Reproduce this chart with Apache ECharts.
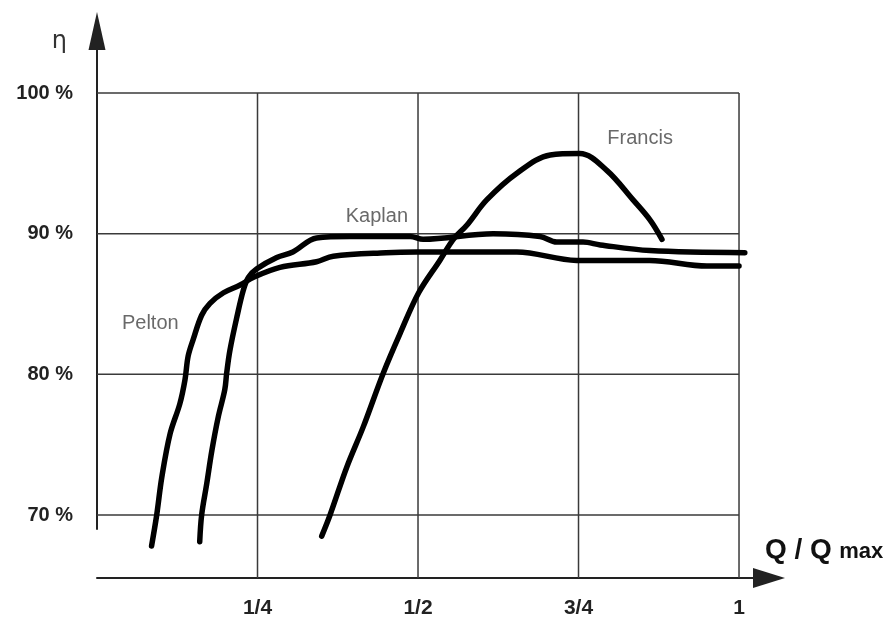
<!DOCTYPE html>
<html><head><meta charset="utf-8">
<script src="https://cdn.jsdelivr.net/npm/echarts@6/dist/echarts.min.js"></script>
<style>html,body{margin:0;padding:0;background:#fff}#c{width:891px;height:623px}</style>
</head><body><div id="c"></div>
<script>
// ---- axis ticks ----
const xTickValues = [0.25, 0.5, 0.75, 1];
const xTickLabels = ['1/4', '1/2', '3/4', '1'];
const yTickValues = [70, 80, 90, 100];

// ---- curves (Q/Qmax, efficiency %) ----
const peltonX = [0.085,0.093,0.101,0.114,0.129,0.137,0.142,0.150,0.163,0.176,0.197,0.223,0.244,0.285,0.342,0.368,0.450,0.498,0.654,0.747,0.861,0.950,1.000];
const peltonY = [67.8,70.0,72.7,75.8,77.9,79.6,81.3,82.5,84.2,85.05,85.8,86.35,86.9,87.6,88.0,88.4,88.65,88.7,88.7,88.1,88.1,87.7,87.7];

const kaplanX = [0.160,0.163,0.171,0.179,0.189,0.199,0.202,0.207,0.218,0.228,0.236,0.249,0.280,0.305,0.342,0.394,0.488,0.508,0.617,0.690,0.716,0.757,0.784,0.861,1.009];
const kaplanY = [68.1,70.0,72.25,74.6,77.0,78.9,80.1,81.7,84.1,86.0,86.9,87.5,88.3,88.7,89.7,89.8,89.8,89.6,90.0,89.8,89.4,89.4,89.2,88.8,88.65];

const francisX = [0.350,0.363,0.389,0.415,0.446,0.472,0.501,0.534,0.555,0.576,0.607,0.654,0.706,0.752,0.794,0.835,0.861,0.880];
const francisY = [68.5,70.0,73.4,76.3,80.1,82.9,85.8,88.1,89.6,90.6,92.4,94.3,95.6,95.7,94.5,92.4,91.0,89.6];

// ---- curve name annotations ----
const labelNames = ['Pelton', 'Kaplan', 'Francis'];
const labelX = [0.083, 0.436, 0.846];
const labelY = [83.6, 91.25, 96.8];

const X_MIN = 0, X_MAX = 1.0467;
const Y_MIN = 65.52, Y_MAX = 104.41, Y_AXIS_LOW = 69.0;

const FONT = "'Liberation Sans', Arial, sans-serif";
const zip = (a, b) => a.map((v, i) => [v, b[i]]);

const series = [];
yTickValues.forEach(v => series.push({
  type: 'line', xAxisIndex: 0, yAxisIndex: 0, data: [[0, v], [1, v]],
  symbol: 'none', silent: true, z: 1, animation: false,
  lineStyle: { color: '#3a3a3a', width: 1.5 }
}));
xTickValues.forEach(v => series.push({
  type: 'line', xAxisIndex: 0, yAxisIndex: 0, data: [[v, Y_MIN], [v, 100]],
  symbol: 'none', silent: true, z: 1, animation: false,
  lineStyle: { color: '#3a3a3a', width: 1.5 }
}));
[[peltonX, peltonY, 'Pelton'], [kaplanX, kaplanY, 'Kaplan'], [francisX, francisY, 'Francis']].forEach(([xs, ys, n]) => series.push({
  name: n, type: 'line', xAxisIndex: 0, yAxisIndex: 0, data: zip(xs, ys),
  symbol: 'none', smooth: 0.35, z: 3, animation: false,
  lineStyle: { color: '#000', width: 5.5, cap: 'round', join: 'round' }
}));
series.push({
  type: 'scatter', xAxisIndex: 0, yAxisIndex: 0, symbolSize: 0, z: 4, animation: false,
  data: labelNames.map((n, i) => [labelX[i], labelY[i], n]),
  label: { show: true, position: 'inside', formatter: p => p.data[2],
    fontFamily: FONT, fontSize: 20, color: '#444' }
});

const option = {
  backgroundColor: '#fff',
  animation: false,
  grid: [
    { left: 97, right: 122, top: 31, bottom: 45 },
    { left: 97, right: 122, top: 31, bottom: 94 }
  ],
  xAxis: [
    { type: 'value', gridIndex: 0, min: X_MIN, max: X_MAX,
      axisLine: { show: true, symbol: ['none', 'triangle'], symbolSize: [20, 32],
        lineStyle: { color: '#222', width: 2 } },
      axisTick: { show: false }, splitLine: { show: false },
      axisLabel: { customValues: xTickValues, margin: 20,
        formatter: v => xTickLabels[xTickValues.indexOf(v)] ?? '',
        fontFamily: FONT, fontSize: 21, fontWeight: 'bold', color: '#222' },
      name: '{q|Q / Q} {m|max}', nameLocation: 'end', nameGap: -4,
      nameTextStyle: { align: 'left', verticalAlign: 'bottom', padding: [0, 0, 14, 0],
        rich: { q: { fontFamily: FONT, fontSize: 28, fontWeight: 'bold', color: '#111' },
                m: { fontFamily: FONT, fontSize: 22, fontWeight: 'bold', color: '#111', padding: [4, 0, 0, 4] } } }
    },
    { type: 'value', gridIndex: 1, min: 0, max: 1, show: false }
  ],
  yAxis: [
    { type: 'value', gridIndex: 0, min: Y_MIN, max: Y_MAX,
      axisLine: { show: false }, axisTick: { show: false }, splitLine: { show: false },
      axisLabel: { customValues: yTickValues, margin: 24, formatter: '{value} %',
        fontFamily: FONT, fontSize: 20, fontWeight: 'bold', color: '#222' } },
    { type: 'value', gridIndex: 1, min: Y_AXIS_LOW, max: Y_MAX,
      axisLine: { show: true, symbol: ['none', 'triangle'], symbolSize: [17, 38],
        lineStyle: { color: '#222', width: 2 } },
      axisTick: { show: false }, splitLine: { show: false }, axisLabel: { show: false },
      name: 'η', nameLocation: 'end', nameGap: -11,
      nameTextStyle: { align: 'right', verticalAlign: 'middle', padding: [0, 30, 0, 0],
        fontFamily: "'DejaVu Sans', sans-serif", fontSize: 24, color: '#333' } }
  ],
  series
};
const chart = echarts.init(document.getElementById('c'), null, { renderer: 'canvas' });
chart.setOption(option);
</script>
</body></html>
